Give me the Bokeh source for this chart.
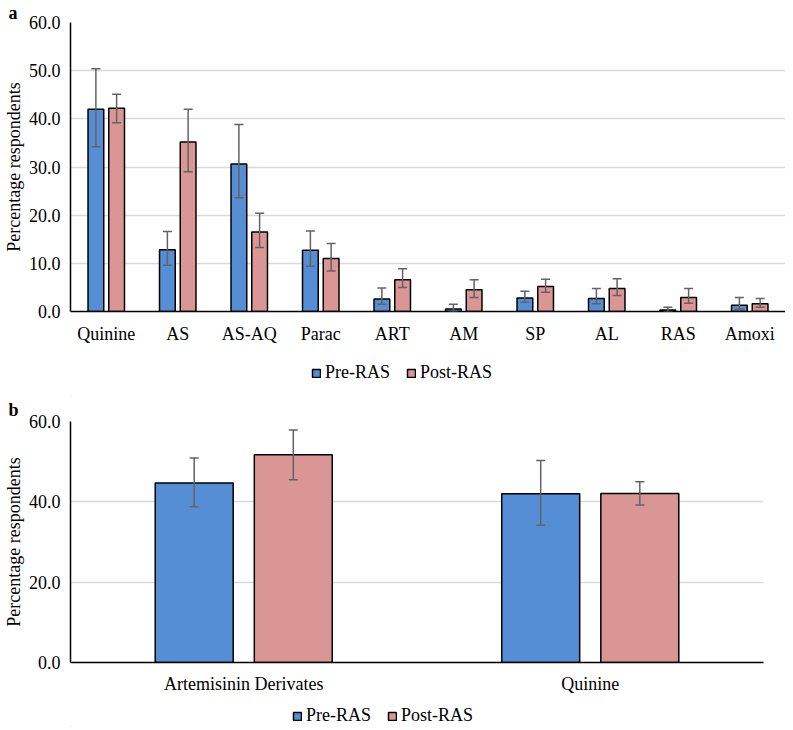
from bokeh.plotting import figure
from bokeh.models import (ColumnDataSource, FactorRange, Range1d, Whisker, TeeHead,
                          Legend, LegendItem, FixedTicker, PrintfTickFormatter)
from bokeh.transform import dodge
from bokeh.layouts import column
from bokeh.embed import file_html
from bokeh.resources import INLINE

# ---- Panel a data ----
drugs = ["Quinine", "AS", "AS-AQ", "Parac", "ART", "AM", "SP", "AL", "RAS", "Amoxi"]
pre_a = [42.0, 12.8, 30.6, 12.7, 2.6, 0.5, 2.8, 2.7, 0.3, 1.3]
pre_a_lo = [34.2, 9.6, 23.6, 9.4, 1.5, 0.0, 1.9, 1.6, 0.0, 0.5]
pre_a_hi = [50.4, 16.6, 38.8, 16.7, 4.9, 1.5, 4.2, 4.8, 0.9, 2.9]
post_a = [42.2, 35.2, 16.5, 11.0, 6.6, 4.5, 5.2, 4.8, 2.9, 1.6]
post_a_lo = [39.2, 29.0, 13.3, 8.4, 5.0, 2.9, 4.0, 3.3, 1.7, 0.9]
post_a_hi = [45.1, 42.0, 20.4, 14.1, 8.9, 6.6, 6.7, 6.8, 4.8, 2.7]
yticks_a = [0, 10, 20, 30, 40, 50, 60]

# ---- Panel b data ----
groups_b = ["Artemisinin Derivates", "Quinine"]
pre_b = [44.7, 42.0]
pre_b_lo = [38.8, 34.2]
pre_b_hi = [50.9, 50.3]
post_b = [51.7, 42.1]
post_b_lo = [45.5, 39.2]
post_b_hi = [57.9, 45.0]
yticks_b = [0, 20, 40, 60]

series_names = ["Pre-RAS", "Post-RAS"]
BLUE = "#558ED5"
PINK = "#D99694"
ERR = "#636363"
FONT = "Liberation Serif"
W = 777


def make_panel(cats, pre, pre_lo, pre_hi, post, post_lo, post_hi, yticks, letter,
               fw, fh, bl, br, title_standoff, x_standoff, bar_w, offs):
    src = ColumnDataSource(dict(cat=cats, pre=pre, pre_lo=pre_lo, pre_hi=pre_hi,
                                post=post, post_lo=post_lo, post_hi=post_hi))
    p = figure(x_range=FactorRange(*cats), y_range=Range1d(0, 60),
               frame_width=fw, frame_height=fh,
               min_border_left=bl, min_border_right=br, min_border_top=0,
               min_border_bottom=0, output_backend="svg", toolbar_location=None)
    p.outline_line_color = None
    p.vbar(x=dodge("cat", -offs, range=p.x_range), top="pre", width=bar_w,
           source=src, fill_color=BLUE, line_color="black", line_width=1.5)
    p.vbar(x=dodge("cat", offs, range=p.x_range), top="post", width=bar_w,
           source=src, fill_color=PINK, line_color="black", line_width=1.5)
    for col, sgn in (("pre", -1), ("post", 1)):
        wk = Whisker(base=dodge("cat", sgn * offs, range=p.x_range),
                     lower=col + "_lo", upper=col + "_hi", source=src,
                     line_color=ERR, line_width=1.5, level="annotation",
                     upper_head=TeeHead(size=9, line_color=ERR, line_width=1.5),
                     lower_head=TeeHead(size=9, line_color=ERR, line_width=1.5))
        p.add_layout(wk)

    # panel letter as title
    p.title.text = letter
    p.title.align = "left"
    p.title.offset = -bl
    p.title.standoff = title_standoff
    p.title.text_font = FONT
    p.title.text_font_style = "bold"
    p.title.text_font_size = "18px"
    p.title.text_color = "black"

    for ax in (p.xaxis[0], p.yaxis[0]):
        ax.major_tick_line_color = None
        ax.minor_tick_line_color = None
        ax.major_tick_out = 0
        ax.major_tick_in = 0
        ax.axis_line_color = "black"
        ax.axis_line_width = 1.5
        ax.major_label_text_font = FONT
        ax.major_label_text_font_size = "18px"
        ax.major_label_text_color = "black"
    p.xaxis.major_label_standoff = x_standoff
    p.yaxis.ticker = FixedTicker(ticks=yticks)
    p.yaxis.formatter = PrintfTickFormatter(format="%.1f")
    p.yaxis.major_label_standoff = 10
    p.yaxis.axis_label = "Percentage respondents"
    p.yaxis.axis_label_text_font = FONT
    p.yaxis.axis_label_text_font_size = "18px"
    p.yaxis.axis_label_text_font_style = "normal"
    p.yaxis.axis_label_text_color = "black"
    p.yaxis.axis_label_standoff = 2
    p.xgrid.grid_line_color = None
    p.ygrid.grid_line_color = "#d9d9d9"
    p.ygrid.grid_line_width = 1.5
    p.ygrid.ticker = FixedTicker(ticks=yticks)
    return p


def make_legend(h, lx, ly):
    # a strip below each chart that only carries the legend
    lp = figure(width=W, height=h, x_range=Range1d(0, 1), y_range=Range1d(0, 1),
                x_axis_type=None, y_axis_type=None, min_border=0,
                output_backend="svg", toolbar_location=None)
    lp.outline_line_color = None
    swatch = ColumnDataSource(dict(x=[-1.0], top=[0.0]))  # swatch only, outside the view
    r1 = lp.vbar(x="x", top="top", width=0.1, source=swatch,
                 fill_color=BLUE, line_color="black", line_width=1.5)
    r2 = lp.vbar(x="x", top="top", width=0.1, source=swatch,
                 fill_color=PINK, line_color="black", line_width=1.5)
    legend = Legend(items=[LegendItem(label=series_names[0], renderers=[r1]),
                           LegendItem(label=series_names[1], renderers=[r2])],
                    orientation="horizontal", location=(lx, ly),
                    glyph_width=10, glyph_height=10, label_standoff=4, spacing=16,
                    label_text_font=FONT, label_text_font_size="18px",
                    label_text_color="black", padding=0, margin=0,
                    border_line_color=None, background_fill_alpha=0)
    lp.add_layout(legend)
    return lp


pa = make_panel(drugs, pre_a, pre_a_lo, pre_a_hi, post_a, post_a_lo, post_a_hi, yticks_a, "a",
                fw=715, fh=289, bl=62, br=0, title_standoff=0, x_standoff=12,
                bar_w=0.22, offs=0.145)
la = make_legend(50, 241, 13)
pb = make_panel(groups_b, pre_b, pre_b_lo, pre_b_hi, post_b, post_b_lo, post_b_hi, yticks_b, "b",
                fw=693, fh=241, bl=62, br=22, title_standoff=3, x_standoff=11,
                bar_w=0.225, offs=0.143)
lb = make_legend(31, 222, 1)

layout = column(pa, la, pb, lb, spacing=0)
open("out.html", "w").write(file_html(layout, INLINE))
